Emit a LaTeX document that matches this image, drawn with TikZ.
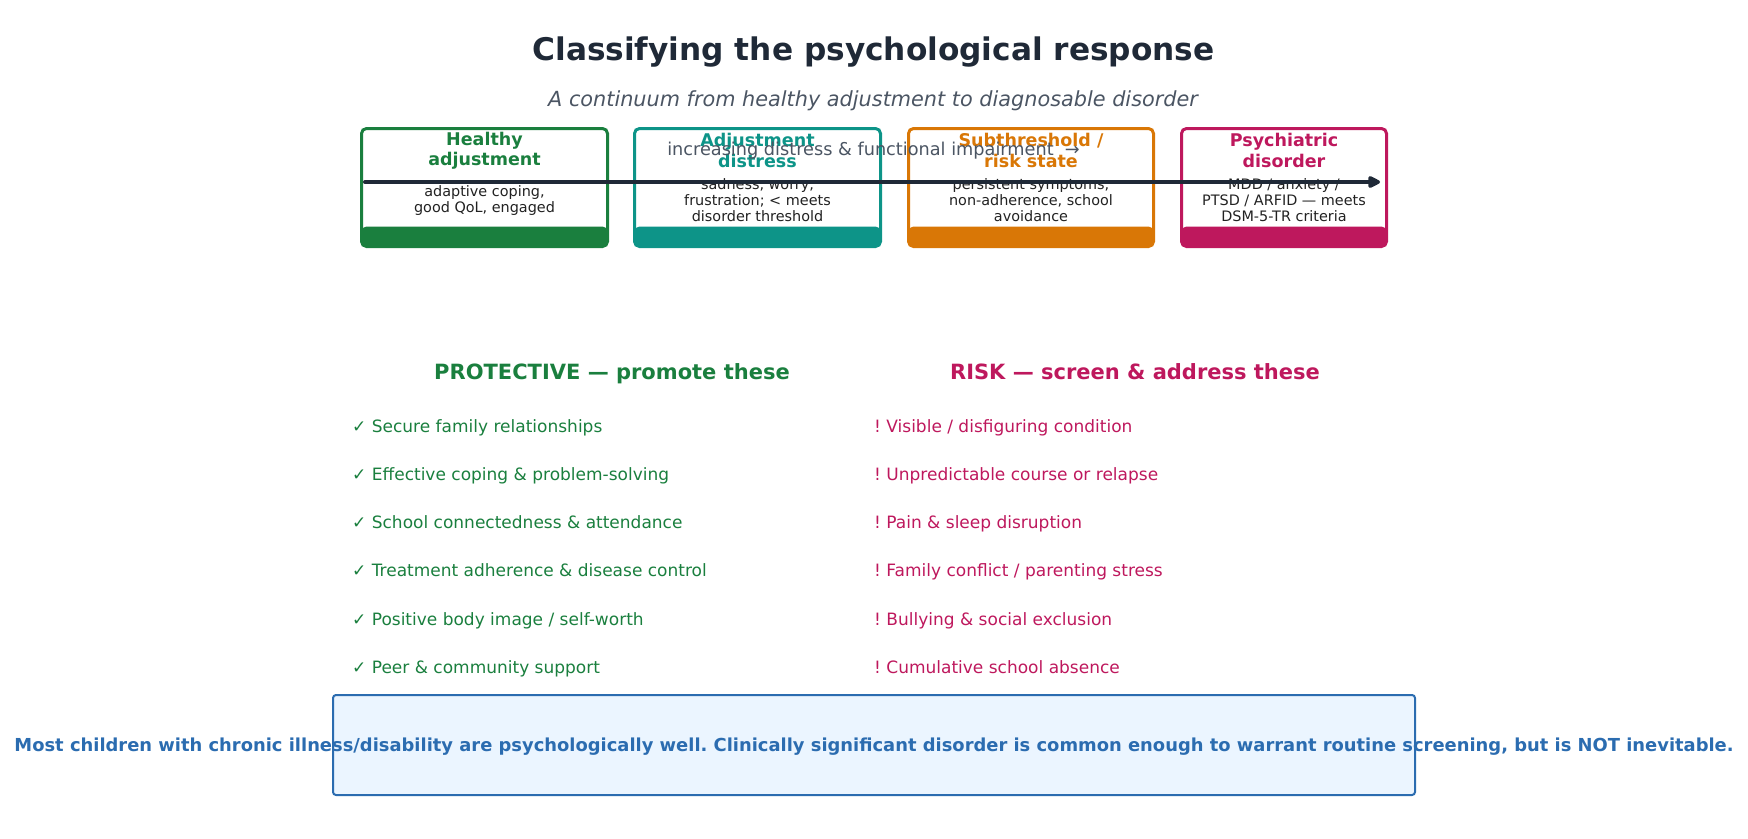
\documentclass[tikz,border=0pt]{standalone}
\usepackage{fontspec}
\setmainfont{DejaVu Sans}
\usetikzlibrary{arrows.meta}
\frenchspacing
\definecolor{cgreen}{RGB}{26,127,62}
\definecolor{cteal}{RGB}{13,148,136}
\definecolor{corange}{RGB}{217,119,6}
\definecolor{cmag}{RGB}{190,24,93}
\definecolor{ctitle}{RGB}{31,41,55}
\definecolor{csub}{RGB}{75,85,99}
\definecolor{cdesc}{RGB}{34,34,34}
\definecolor{cblue}{RGB}{43,108,176}
\definecolor{cbluefill}{RGB}{235,245,255}
\tikzset{
  stagebox/.style={draw=#1, line width=3pt, rounded corners=5pt, fill=white,
    minimum height=118pt, inner sep=0pt,
    path picture={\fill[#1] (path picture bounding box.south west) rectangle ([yshift=20pt]path picture bounding box.south east);}},
  stagetitle/.style={text=#1, align=center, font=\fontsize{17.5}{20.5}\selectfont\bfseries, inner sep=0pt},
  stagedesc/.style={text=cdesc, align=center, font=\fontsize{14.4}{16}\selectfont, inner sep=0pt},
  header/.style={text=#1, anchor=base, font=\fontsize{21}{25}\selectfont\bfseries, inner sep=0pt},
  item/.style={text=#1, anchor=base west, font=\fontsize{17}{20}\selectfont, inner sep=0pt},
}
\begin{document}
\begin{tikzpicture}[x=1pt,y=-1pt]
\useasboundingbox (0,0) rectangle (1748,838);
\node[anchor=base, text=ctitle, font=\fontsize{31.2}{36}\selectfont\bfseries, inner sep=0pt] (title) at (873.5,60) {Classifying the psychological response};
\node[anchor=base, text=csub, font=\fontsize{20.8}{24}\selectfont\itshape, inner sep=0pt] (sub) at (873,106) {A continuum from healthy adjustment to diagnosable disorder};

\node[stagebox=cgreen, minimum width=246pt] (b1) at (484.5,187.5) {};
\node[stagebox=cteal, minimum width=246pt] (b2) at (757.5,187.5) {};
\node[stagebox=corange, minimum width=245pt] (b3) at (1031,187.5) {};
\node[stagebox=cmag, minimum width=205pt] (b4) at (1284,187.5) {};

\node[stagetitle=cgreen] (t1) at (484.5,150.5) {Healthy\\adjustment};
\node[stagetitle=cteal] (t2) at (757.5,150.5) {Adjustment\\distress};
\node[stagetitle=corange] (t3) at (1031,150.5) {Subthreshold /\\risk state};
\node[stagetitle=cmag] (t4) at (1284,150.5) {Psychiatric\\disorder};

\node[stagedesc] (d1) at (484.5,201) {adaptive coping,\\good QoL, engaged};
\node[stagedesc] (d2) at (757.5,200.5) {sadness, worry,\\frustration; < meets\\disorder threshold};
\node[stagedesc] (d3) at (1031,200.5) {persistent symptoms,\\non-adherence, school\\avoidance};
\node[stagedesc] (d4) at (1284,200.5) {MDD / anxiety /\\PTSD / ARFID — meets\\DSM-5-TR criteria};

\coordinate (a0) at (365,182);
\coordinate (a1) at (1380,182);
\draw[ctitle, line width=4pt, line cap=round, -{Triangle[length=14pt,width=13pt,round]}] (a0) -- (a1);
\node[anchor=base, text=csub, font=\fontsize{17.7}{20}\selectfont, inner sep=0pt] (alab) at (873.5,155.5) {increasing distress \& functional impairment \ →};

\node[header=cgreen] (hp) at (612,379) {PROTECTIVE — promote these};
\node[header=cmag] (hr) at (1135,379) {RISK — screen \& address these};

\node[item=cgreen] (p1) at (352,432) {✓ Secure family relationships};
\node[item=cgreen] (p2) at (352,480.3) {✓ Effective coping \& problem-solving};
\node[item=cgreen] (p3) at (352,528.6) {✓ School connectedness \& attendance};
\node[item=cgreen] (p4) at (352,576.9) {✓ Treatment adherence \& disease control};
\node[item=cgreen] (p5) at (352,625.2) {✓ Positive body image / self-worth};
\node[item=cgreen] (p6) at (352,673.5) {✓ Peer \& community support};

\node[item=cmag] (r1) at (874,432) {! Visible / disfiguring condition};
\node[item=cmag] (r2) at (874,480.3) {! Unpredictable course or relapse};
\node[item=cmag] (r3) at (874,528.6) {! Pain \& sleep disruption};
\node[item=cmag] (r4) at (874,576.9) {! Family conflict / parenting stress};
\node[item=cmag] (r5) at (874,625.2) {! Bullying \& social exclusion};
\node[item=cmag] (r6) at (874,673.5) {! Cumulative school absence};

\node[draw=cblue, fill=cbluefill, line width=2pt, rounded corners=3pt, minimum width=1082pt, minimum height=100pt, inner sep=0pt] (note) at (874,745) {};
\node[anchor=base, text=cblue, font=\fontsize{17.9}{22}\selectfont\bfseries, inner sep=0pt] (notetext) at (874,751) {Most children with chronic illness/disability are psychologically well. Clinically significant disorder is common enough to warrant routine screening, but is NOT inevitable.};
\end{tikzpicture}
\end{document}
